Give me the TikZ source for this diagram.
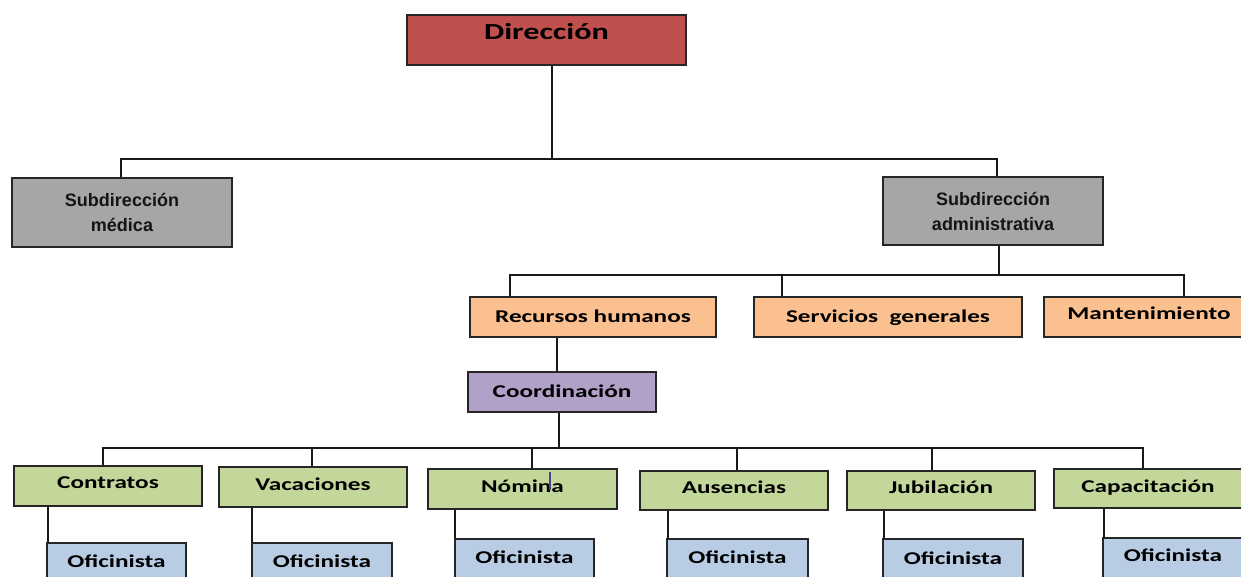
\documentclass[tikz,border=0pt]{standalone}
\usepackage{fontspec}
\newfontfamily\calfont[FakeStretch=1.40]{Carlito}
\newfontfamily\arialfont{Liberation Sans}
\definecolor{cred}{HTML}{C0504D}
\definecolor{cgray}{HTML}{A6A6A6}
\definecolor{corange}{HTML}{FAC090}
\definecolor{cpurple}{HTML}{B1A0C7}
\definecolor{cgreen}{HTML}{C4D79B}
\definecolor{cblue}{HTML}{B8CCE4}
\definecolor{ccursor}{HTML}{4F3F86}
\begin{document}
\begin{tikzpicture}[x=1pt,y=-1pt,
  box/.style={draw=black!85, line width=1.5pt, inner sep=0pt, text=black,
    font=\calfont\bfseries\fontsize{18}{20}\selectfont},
  subbox/.style={draw=black!85, line width=1.5pt, inner sep=0pt, fill=cgray, text=black!92,
    align=center, font=\arialfont\bfseries\fontsize{18}{25}\selectfont},
  wh/.style 2 args={minimum width=#1pt, minimum height=#2pt},
  bl/.style={text depth=5pt, text height=#1pt},
  link/.style={draw=black!90, line width=1.5pt}]
\useasboundingbox (0,0) rectangle (1241,577);
\clip (0,0) rectangle (1241,577);
\fill[white] (0,0) rectangle (1241,577);

% top
\node[box, fill=cred, wh={279}{50}, bl=5, font=\calfont\bfseries\fontsize{23}{25}\selectfont] (dir) at (546.5,40) {Dirección};
\node[subbox, wh={220}{69}] (smed) at (122,212.5) {Subdirección\\médica};
\node[subbox, wh={220}{68}] (sadm) at (993,211) {Subdirección\\administrativa};

% second level
\node[box, fill=corange, wh={246}{40}, bl=15] (rh) at (593,317) {Recursos humanos};
\node[box, fill=corange, wh={268}{40}, bl=15] (sg) at (888,317) {Servicios\ \ generales};
\node[box, fill=corange, wh={210}{40}, bl=9] (mant) at (1149,317) {Mantenimiento};
\node[box, fill=cpurple, wh={188}{40}, bl=15] (coord) at (562,392) {Coordinación};

% third level
\node[box, fill=cgreen, wh={188}{40}, bl=9] (contr) at (108,486) {Contratos};
\node[box, fill=cgreen, wh={188}{40}, bl=11] (vac) at (313,487) {Vacaciones};
\node[box, fill=cgreen, wh={189}{40}, bl=11] (nom) at (522.5,489) {Nómina};
\node[box, fill=cgreen, wh={188}{39}, bl=10] (aus) at (734,490.5) {Ausencias};
\node[box, fill=cgreen, wh={188}{39}, bl=10] (jub) at (941,490.5) {Jubilación};
\node[box, fill=cgreen, wh={188}{39}, bl=12] (cap) at (1148,488.5) {Capacitación};

% oficinistas
\node[box, fill=cblue, wh={139}{40}, bl=13] (ofi1) at (116.5,563) {Oficinista};
\node[box, fill=cblue, wh={140}{40}, bl=13] (ofi2) at (322,563) {Oficinista};
\node[box, fill=cblue, wh={139}{40}, bl=13] (ofi3) at (524.5,559) {Oficinista};
\node[box, fill=cblue, wh={141}{40}, bl=13] (ofi4) at (737.5,559) {Oficinista};
\node[box, fill=cblue, wh={140}{40}, bl=15] (ofi5) at (953,559) {Oficinista};
\node[box, fill=cblue, wh={140}{40}, bl=11] (ofi6) at (1173,558) {Oficinista};

% connectors level 1
\coordinate (b1) at (552,159);
\coordinate (b1l) at (121,159);
\coordinate (b1r) at (997,159);
\draw[link] (dir.south -| b1) -- (b1);
\draw[link] (b1l |- smed.north) -- (b1l) -- (b1r) -- (b1r |- sadm.north);

% connectors level 2
\coordinate (b2) at (999,275);
\coordinate (b2l) at (510,275);
\coordinate (b2m) at (782,275);
\coordinate (b2r) at (1184,275);
\draw[link] (b2 |- sadm.south) -- (b2);
\draw[link] (b2l |- rh.north) -- (b2l) -- (b2r) -- (b2r |- mant.north);
\draw[link] (b2m) -- (b2m |- sg.north);
\coordinate (c1) at (557,355);
\draw[link] (c1 |- rh.south) -- (c1 |- coord.north);

% connectors level 3
\coordinate (b3) at (559,448);
\coordinate (b3a) at (103,448);
\coordinate (b3b) at (312,448);
\coordinate (b3c) at (532,448);
\coordinate (b3d) at (737,448);
\coordinate (b3e) at (932,448);
\coordinate (b3f) at (1143,448);
\draw[link] (b3 |- coord.south) -- (b3);
\draw[link] (b3a |- contr.north) -- (b3a) -- (b3f) -- (b3f |- cap.north);
\draw[link] (b3b) -- (b3b |- vac.north);
\draw[link] (b3c) -- (b3c |- nom.north);
\draw[link] (b3d) -- (b3d |- aus.north);
\draw[link] (b3e) -- (b3e |- jub.north);

% connectors to oficinistas
\coordinate (o1) at (48,525);
\coordinate (o2) at (252,525);
\coordinate (o3) at (455,525);
\coordinate (o4) at (668,525);
\coordinate (o5) at (884,525);
\coordinate (o6) at (1104,525);
\draw[link] (o1 |- contr.south) -- (o1 |- ofi1.north);
\draw[link] (o2 |- vac.south) -- (o2 |- ofi2.north);
\draw[link] (o3 |- nom.south) -- (o3 |- ofi3.north);
\draw[link] (o4 |- aus.south) -- (o4 |- ofi4.north);
\draw[link] (o5 |- jub.south) -- (o5 |- ofi5.north);
\draw[link] (o6 |- cap.south) -- (o6 |- ofi6.north);

% text cursor mark in Nómina
\draw[ccursor, line width=2pt] (550,472) -- (550,490);
\end{tikzpicture}
\end{document}
